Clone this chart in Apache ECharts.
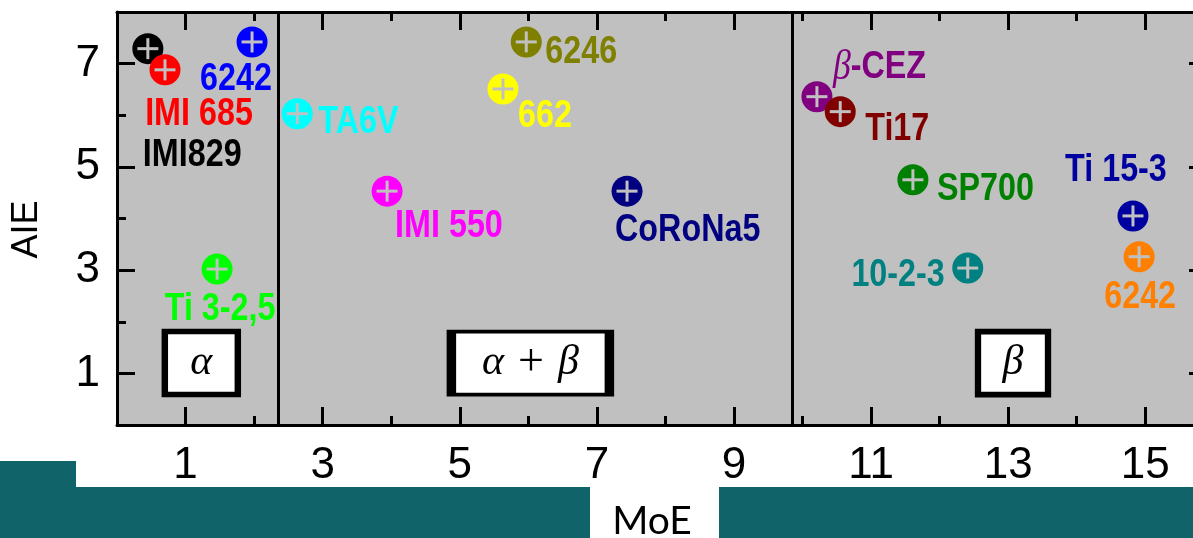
<!DOCTYPE html>
<html>
<head>
<meta charset="utf-8">
<script src="https://cdn.jsdelivr.net/npm/echarts@6/dist/echarts.min.js"></script>
<style>
  html, body { margin: 0; padding: 0; background: #ffffff; }
  #chart { width: 1193px; height: 538px; }
</style>
</head>
<body>
<div id="chart"></div>
<script>
// Titanium alloys: modulus (MoE) vs. AIE
const alloyNames = ['IMI829', 'IMI 685', '6242', 'Ti 3-2,5', 'TA6V', 'IMI 550', '662', '6246',
                    'CoRoNa5', 'β-CEZ', 'Ti17', 'SP700', '10-2-3', 'Ti 15-3', '6242'];
const moeValues = [0.45, 0.70, 1.97, 1.46, 2.63, 3.94, 5.63, 5.97, 7.44, 10.21, 10.55, 11.61, 12.41, 14.82, 14.91];
const aieValues = [7.29, 6.88, 7.42, 3.02, 6.03, 4.53, 6.51, 7.42, 4.53, 6.36, 6.07, 4.75, 3.04, 4.05, 3.26];

// Phase domains and their boundaries on the MoE axis
const regionNames = ['α', 'α + β', 'β'];
const regionBoundaries = [2.35, 9.85];
const regionLabelMoE = [1.23, 6.03, 13.07];
const regionLabelAIE = [1.20, 1.20, 1.20];

// Axis ranges and tick values
const xRange = [0, 15.9];
const yRange = [0, 8];
const xMajorTicks = [1, 3, 5, 7, 9, 11, 13, 15];
const xMinorTicks = [0, 2, 4, 6, 8, 10, 12, 14];
const yMajorTicks = [1, 3, 5, 7];
const yMinorTicks = [0, 2, 4, 6, 8];

// Styling
const alloyColors = ['#000000', '#ff0000', '#0000ff', '#00ff00', '#00ffff', '#ff00ff', '#ffff00', '#808000',
                     '#000080', '#800080', '#800000', '#008000', '#008080', '#0000a0', '#ff8000'];
// label anchor offset from the marker centre [dx, dy, align]
const labelPlacement = [
  [-5, 107, 'left'], [34, 45, 'center'], [-16, 38, 'center'], [3, 40, 'center'],
  [21, 9, 'left'], [8, 35, 'left'], [15, 28, 'left'], [19, 11, 'left'],
  [-12, 39, 'left'], [16, -29, 'left'], [25, 18, 'left'], [24, 10, 'left'],
  [-23, 7, 'right'], [-17, -45, 'center'], [1, 41, 'center']
];
const regionBoxSizes = [[73, 63], [158, 63], [70, 63]];

const PLOT_BG = '#c0c0c0';
const SANS = '"Liberation Sans", Arial, sans-serif';
const MATH = '"Liberation Serif", "DejaVu Serif", serif';
const MARKER_R = 15.5;
const CROSS_ARM = 10.5;
const CROSS_W = 3;
const NARROW_SCALE = 0.85;

const chart = echarts.init(document.getElementById('chart'), null, { renderer: 'canvas' });

function makeAxis(dim, position, ticks, tickLen, withLine, withLabels) {
  const range = dim === 'x' ? xRange : yRange;
  return {
    type: 'value',
    position: position,
    min: range[0],
    max: range[1],
    splitLine: { show: false },
    axisLine: { show: withLine, onZero: false, lineStyle: { color: '#000', width: 3 } },
    axisTick: { show: true, inside: true, length: tickLen, customValues: ticks,
                lineStyle: { color: '#000', width: 3 } },
    axisLabel: { show: withLabels, customValues: ticks, color: '#000', fontFamily: SANS,
                 fontSize: 44, margin: dim === 'x' ? 19 : 17 }
  };
}

const xAxes = [
  Object.assign(makeAxis('x', 'bottom', xMajorTicks, 18, true, true), {
    name: 'MoE', nameLocation: 'middle', nameGap: 77,
    nameTextStyle: { fontFamily: 'Lato, "Open Sans", sans-serif', fontSize: 39, color: '#000', padding: [0, 20, 0, 0] }
  }),
  makeAxis('x', 'bottom', xMinorTicks, 9, false, false),
  makeAxis('x', 'top', xMajorTicks, 18, true, false),
  makeAxis('x', 'top', xMinorTicks, 9, false, false)
];
const yAxes = [
  Object.assign(makeAxis('y', 'left', yMajorTicks, 18, true, true), {
    name: 'AIE', nameLocation: 'middle', nameGap: 72,
    nameTextStyle: { fontFamily: SANS, fontSize: 36, color: '#000', padding: [0, 22, 0, 0] }
  }),
  makeAxis('y', 'left', yMinorTicks, 9, false, false),
  makeAxis('y', 'right', yMajorTicks, 18, true, false),
  makeAxis('y', 'right', yMinorTicks, 9, false, false)
];

function labelText(name) {
  if (name.charAt(0) === 'β') return '{g|β}' + name.slice(1);
  return name;
}

const alloyData = moeValues.map((x, i) => [x, aieValues[i]]);

const option = {
  animation: false,
  backgroundColor: '#ffffff',
  grid: {
    left: 117, top: 12, bottom: 113, right: -14,
    containLabel: false, outerBoundsMode: 'none',
    show: true, backgroundColor: PLOT_BG, borderWidth: 0
  },
  xAxis: xAxes,
  yAxis: yAxes,
  graphic: [
    { type: 'rect', z: -10, shape: { x: 0, y: 461, width: 76, height: 80 }, style: { fill: '#0f6369' } },
    { type: 'rect', z: -10, shape: { x: 0, y: 487, width: 590, height: 60 }, style: { fill: '#0f6369' } },
    { type: 'rect', z: -10, shape: { x: 719, y: 487, width: 480, height: 60 }, style: { fill: '#0f6369' } }
  ],
  series: [
    {
      name: 'regions',
      type: 'scatter',
      xAxisIndex: 0, yAxisIndex: 0,
      z: 2,
      symbol: 'rect',
      data: regionNames.map((n, i) => ({
        value: [regionLabelMoE[i], regionLabelAIE[i]],
        symbolSize: regionBoxSizes[i],
        label: { formatter: n.replace(/α/g, '{g|α}').replace(/β/g, '{g|β}').replace('+', '{p|+}') }
      })),
      itemStyle: { color: '#ffffff', borderColor: '#000000', borderWidth: 6, opacity: 1 },
      label: {
        show: true, position: 'inside', color: '#000', fontFamily: MATH, fontSize: 40,
        rich: {
          g: { fontFamily: MATH, fontStyle: 'italic', fontSize: 42, color: '#000' },
          p: { fontFamily: MATH, fontSize: 46, color: '#000', padding: [0, 4, 0, 4] }
        }
      },
      emphasis: { disabled: true },
      silent: true,
      markLine: {
        silent: true,
        symbol: 'none',
        label: { show: false },
        lineStyle: { color: '#000', width: 3, type: 'solid' },
        data: regionBoundaries.map(v => ({ xAxis: v }))
      }
    },
    {
      name: 'alloys',
      type: 'custom',
      xAxisIndex: 0, yAxisIndex: 0,
      z: 5,
      data: alloyData,
      silent: true,
      renderItem: function (params, api) {
        const i = params.dataIndex;
        const p = api.coord([api.value(0), api.value(1)]);
        const c = alloyColors[i];
        const pl = labelPlacement[i];
        return {
          type: 'group',
          children: [
            { type: 'circle', shape: { cx: p[0], cy: p[1], r: MARKER_R }, style: { fill: c } },
            { type: 'rect', shape: { x: p[0] - CROSS_ARM, y: p[1] - CROSS_W / 2, width: 2 * CROSS_ARM, height: CROSS_W },
              style: { fill: PLOT_BG } },
            { type: 'rect', shape: { x: p[0] - CROSS_W / 2, y: p[1] - CROSS_ARM, width: CROSS_W, height: 2 * CROSS_ARM },
              style: { fill: PLOT_BG } },
            {
              type: 'text',
              x: p[0] + pl[0], y: p[1] + pl[1],
              scaleX: NARROW_SCALE,
              style: {
                text: labelText(alloyNames[i]),
                fill: c,
                fontFamily: SANS, fontWeight: 'bold', fontSize: 38,
                align: pl[2], verticalAlign: 'middle',
                rich: { g: { fontFamily: MATH, fontStyle: 'italic', fontWeight: 'normal', fontSize: 42, fill: c } }
              }
            }
          ]
        };
      }
    }
  ]
};

chart.setOption(option);
</script>
</body>
</html>
